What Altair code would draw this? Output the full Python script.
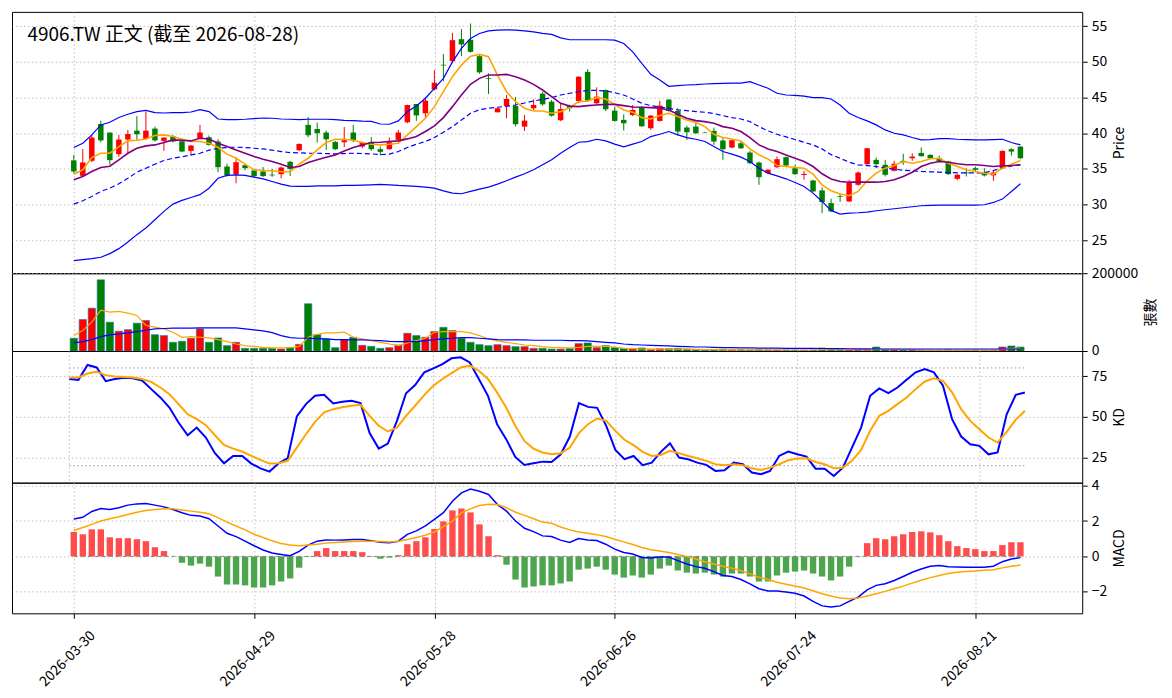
import altair as alt
import pandas as pd

TITLE = "4906.TW 正文 (截至 2026-08-28)"
TICK_POS = [0, 20, 40, 60, 80, 100]
TICK_LABELS = ["2026-03-30", "2026-04-29", "2026-05-28", "2026-06-26", "2026-07-24", "2026-08-21"]

open_ = [36.2, 34.04, 36.14, 41.3, 40.1, 37.07, 39.12, 40.37, 39.2, 40.65,
         38.93, 39.58, 38.88, 37.53, 39.3, 39.44, 38.84, 35.34, 34.27, 35.53,
         34.79, 34.65, 34.2, 34.27, 36.0, 37.63, 41.17, 40.6, 40.1, 38.79,
         38.74, 40.1, 38.14, 38.79, 37.77, 37.77, 39.07, 41.54, 44.1, 42.8,
         46.15, 49.6, 50.1, 53.18, 53.1, 50.8, 47.7, 42.94, 43.82, 43.82,
         40.93, 43.5, 45.55, 44.43, 41.82, 43.82, 44.52, 48.6, 44.2, 46.06,
         43.17, 41.87, 42.56, 43.64, 40.7, 41.73, 44.71, 43.12, 40.8, 40.93,
         40.1, 40.33, 38.98, 38.0, 38.6, 37.3, 35.9, 34.41, 35.25, 36.65,
         35.11, 34.15, 33.39, 31.99, 30.22, 31.2, 30.45, 32.78, 35.67, 36.28,
         35.58, 34.74, 36.14, 36.5, 37.25, 36.97, 36.5, 36.04, 33.62, 34.5,
         35.11, 34.5, 34.1, 35.11, 37.77, 38.14]
close = [34.65, 35.9, 39.4, 39.0, 36.23, 39.12, 39.9, 39.86, 40.37, 39.0,
         39.4, 38.84, 37.44, 38.28, 40.1, 38.37, 35.25, 34.1, 35.95, 35.11,
         34.0, 34.0, 34.1, 35.2, 35.0, 38.5, 39.72, 40.0, 39.16, 37.77,
         39.02, 39.02, 38.7, 37.77, 37.4, 38.74, 40.1, 43.96, 42.5, 44.57,
         47.08, 49.5, 53.04, 52.44, 51.4, 48.53, 47.6, 43.5, 44.8, 41.26,
         41.77, 43.96, 44.05, 42.47, 43.4, 43.5, 47.92, 44.57, 45.13, 43.36,
         41.73, 41.4, 43.26, 40.98, 42.47, 43.87, 43.12, 40.24, 40.14, 40.0,
         40.05, 38.84, 37.77, 39.02, 37.9, 35.81, 33.85, 34.88, 36.37, 35.48,
         34.27, 34.3, 31.85, 30.36, 29.06, 31.1, 33.1, 34.5, 37.9, 35.67,
         34.18, 35.72, 35.95, 36.74, 36.79, 36.5, 36.04, 34.27, 34.18, 34.4,
         34.88, 34.1, 34.5, 37.53, 37.44, 36.5]
high = [36.97, 37.8, 39.77, 41.77, 40.1, 39.77, 40.47, 42.4, 43.03, 40.93,
        39.4, 39.77, 39.3, 38.37, 41.17, 39.68, 39.16, 35.72, 36.6, 35.67,
        34.93, 35.25, 35.0, 35.35, 36.14, 38.6, 42.28, 41.5, 40.37, 38.93,
        40.89, 41.17, 38.84, 39.44, 38.14, 39.4, 40.47, 44.0, 44.1, 45.08,
        48.85, 51.09, 54.07, 54.58, 55.37, 50.95, 48.39, 43.6, 45.36, 45.1,
        42.56, 44.75, 45.8, 44.66, 44.2, 44.0, 48.0, 48.99, 46.43, 46.15,
        43.73, 42.66, 43.96, 43.82, 42.56, 44.57, 44.8, 43.5, 41.07, 41.4,
        40.2, 40.8, 39.3, 39.07, 38.84, 37.53, 36.04, 35.0, 36.74, 36.74,
        35.58, 34.74, 33.48, 32.41, 30.83, 31.5, 33.48, 34.65, 37.95, 36.6,
        36.28, 36.14, 37.12, 37.2, 38.0, 37.07, 36.88, 36.14, 34.27, 35.11,
        35.34, 35.11, 34.74, 37.6, 37.9, 38.14]
low = [34.4, 33.9, 35.95, 38.74, 35.58, 36.7, 37.2, 39.07, 39.1, 38.84,
       37.53, 38.74, 37.35, 36.88, 39.2, 38.28, 34.55, 33.95, 33.0, 34.83,
       33.85, 33.9, 33.9, 33.7, 34.0, 37.5, 39.44, 38.7, 37.67, 37.67,
       38.05, 38.74, 37.9, 37.53, 36.88, 37.67, 38.84, 41.4, 41.73, 42.1,
       46.0, 47.3, 49.8, 50.8, 51.3, 48.34, 45.5, 42.9, 42.1, 40.93,
       40.33, 43.26, 43.87, 42.33, 41.7, 43.03, 44.2, 44.4, 43.96, 43.12,
       41.63, 40.38, 42.4, 40.89, 40.47, 41.63, 43.03, 39.68, 39.07, 39.9,
       40.0, 38.37, 36.28, 37.9, 37.8, 35.67, 32.78, 34.27, 35.11, 35.34,
       34.18, 33.5, 31.76, 28.82, 28.96, 30.4, 30.36, 32.64, 35.58, 35.11,
       33.95, 34.65, 35.58, 36.14, 36.74, 36.42, 35.95, 34.18, 33.43, 33.95,
       34.55, 33.95, 33.34, 35.0, 36.88, 36.42]
volume_k = [32.8, 81, 110, 183, 74, 51, 55, 71.5, 78.4, 42,
            39.7, 22.4, 25, 32.8, 57, 22.4, 33.6, 13.8, 22.4, 6.9,
            6.9, 6.9, 6.9, 5.2, 8.6, 17, 121.5, 42, 31, 8.6,
            29.3, 35.3, 14.7, 12, 6.9, 8.6, 15.5, 45.7, 39.7, 35.3,
            50, 61, 52.6, 32.8, 22.4, 16.4, 13.8, 16.4, 13.8, 11.2,
            11.2, 6.9, 6.9, 5, 5, 6, 19, 20.7, 8.6, 13.8,
            8.6, 6.9, 5.2, 7.8, 4.3, 6, 6, 6.9, 5.2, 2.6,
            1.7, 3.4, 4.3, 3.4, 3.4, 2.6, 3.4, 2.6, 2.6, 2.6,
            2.6, 2.2, 2.6, 7.8, 3.4, 2.6, 3.0, 2.6, 3.4, 10.3,
            2.6, 2.6, 2.2, 2.2, 2.6, 2.2, 2.2, 3.0, 2.2, 2.2,
            2.6, 2.2, 2.6, 10.3, 13, 10.3]
ma5 = [34.27, 34.88, 36.6, 37.2, 37.2, 38.14, 38.93, 39.02, 39.2, 39.68,
       39.77, 39.54, 39.16, 38.84, 38.84, 38.6, 38.0, 37.07, 36.5, 35.67,
       34.88, 34.79, 34.74, 34.6, 34.6, 35.67, 36.5, 37.67, 38.7, 39.16,
       39.16, 39.02, 38.7, 38.47, 38.37, 38.47, 38.6, 39.77, 40.93, 42.1,
       43.73, 45.82, 47.92, 49.55, 50.8, 51.04, 50.71, 48.15, 45.82, 44.43,
       43.5, 43.12, 43.12, 42.8, 43.03, 43.6, 44.43, 44.52, 44.99, 44.8,
       44.05, 43.26, 42.94, 42.19, 42.0, 42.47, 42.8, 42.33, 41.87, 41.5,
       40.93, 39.86, 39.4, 39.2, 38.93, 37.81, 36.97, 36.4, 35.48, 35.34,
       35.2, 35.11, 34.27, 32.78, 31.95, 31.48, 31.25, 31.85, 33.34, 34.41,
       35.11, 35.48, 36.04, 35.81, 36.04, 36.42, 36.5, 35.81, 35.34, 34.88,
       34.65, 34.41, 34.27, 35.11, 35.67, 36.18]
ma10 = [33.48, 33.95, 34.65, 35.2, 35.39, 36.28, 37.2, 37.9, 38.23, 38.37,
        38.7, 39.07, 39.02, 38.93, 39.3, 39.2, 38.6, 38.14, 37.67, 37.2,
        36.74, 36.37, 36.04, 35.67, 35.2, 35.34, 35.9, 36.28, 36.65, 36.97,
        37.53, 38.0, 38.37, 38.7, 38.74, 38.84, 38.93, 39.21, 39.54, 40.24,
        41.03, 42.19, 43.73, 45.36, 46.85, 47.69, 48.15, 48.15, 48.25, 47.92,
        47.45, 46.85, 46.06, 45.13, 44.2, 43.8, 43.73, 43.87, 43.96, 44.05,
        44.05, 43.87, 43.68, 43.64, 43.59, 43.5, 43.26, 42.66, 42.1, 41.77,
        41.63, 41.4, 40.93, 40.7, 40.24, 39.4, 38.37, 37.81, 37.44, 36.97,
        36.5, 36.04, 35.34, 34.32, 33.6, 33.25, 33.15, 33.15, 33.15, 33.15,
        33.25, 33.48, 33.95, 34.55, 35.34, 35.81, 36.04, 35.95, 35.72, 35.58,
        35.58, 35.48, 35.34, 35.44, 35.48, 35.58]
bb_up = [38.0, 38.6, 39.77, 41.17, 41.54, 42.2, 42.66, 43.03, 43.2, 42.9,
         42.84, 42.9, 42.9, 42.98, 43.3, 43.03, 42.0, 41.9, 41.9, 41.96,
         42.05, 42.14, 42.1, 42.0, 41.96, 41.9, 41.96, 41.96, 41.96, 41.9,
         41.8, 41.77, 41.7, 41.66, 41.3, 41.26, 41.73, 43.03, 43.82, 44.9,
         46.3, 47.69, 50.0, 51.88, 53.28, 53.98, 54.35, 54.44, 54.49, 54.44,
         54.35, 54.2, 54.0, 53.84, 53.37, 53.1, 53.1, 53.1, 53.1, 53.1,
         53.04, 52.58, 51.4, 49.78, 48.25, 47.45, 46.57, 46.66, 46.76, 46.8,
         46.9, 46.94, 47.0, 47.03, 47.03, 47.22, 46.76, 46.3, 45.6, 45.36,
         45.3, 45.2, 45.0, 45.0, 44.8, 43.96, 42.8, 42.2, 41.73, 41.17,
         40.47, 40.0, 39.77, 39.4, 39.07, 39.12, 39.26, 39.26, 39.16, 39.12,
         39.07, 39.07, 39.12, 39.16, 38.7, 38.37]
bb_mid = [30.08, 30.55, 31.15, 31.85, 32.32, 32.92, 33.7, 34.55, 35.11, 35.67,
          36.18, 36.5, 36.7, 36.97, 37.2, 37.63, 37.9, 38.0, 38.05, 38.0,
          37.9, 37.81, 37.63, 37.44, 37.3, 37.25, 37.2, 37.2, 37.16, 37.11,
          37.16, 37.2, 37.16, 37.11, 37.02, 37.07, 37.44, 38.0, 38.47, 38.84,
          39.4, 40.14, 40.93, 41.87, 42.8, 43.31, 43.5, 43.64, 43.78, 43.96,
          44.24, 44.52, 44.75, 44.99, 45.36, 45.6, 45.82, 46.0, 46.0, 45.92,
          45.68, 45.36, 44.8, 44.2, 43.87, 43.68, 43.5, 43.26, 43.17, 43.03,
          42.94, 42.75, 42.47, 42.19, 42.0, 41.63, 40.93, 40.33, 39.86, 39.49,
          39.12, 38.74, 38.37, 37.81, 37.0, 36.5, 35.95, 35.58, 35.48, 35.34,
          35.11, 34.97, 34.83, 34.74, 34.65, 34.6, 34.55, 34.5, 34.46, 34.46,
          34.46, 34.46, 34.79, 35.11, 35.44, 35.58]
bb_low = [22.16, 22.3, 22.44, 22.63, 23.14, 23.84, 24.77, 25.8, 26.73, 27.89,
          29.06, 30.08, 30.6, 31.0, 31.4, 32.3, 33.7, 34.1, 34.18, 34.1,
          33.85, 33.62, 33.25, 32.88, 32.6, 32.55, 32.55, 32.64, 32.64, 32.64,
          32.69, 32.69, 32.74, 32.78, 32.83, 32.78, 32.69, 32.64, 32.55, 32.46,
          32.32, 31.94, 31.62, 31.53, 31.85, 32.18, 32.46, 32.88, 33.34, 33.85,
          34.32, 34.88, 35.58, 36.28, 37.2, 38.0, 38.74, 38.84, 39.16, 38.93,
          38.47, 38.1, 38.47, 38.84, 39.54, 39.86, 40.24, 39.77, 39.4, 39.16,
          38.84, 38.14, 37.44, 37.07, 36.65, 36.04, 35.11, 34.41, 34.04, 33.62,
          33.11, 32.55, 31.62, 30.45, 29.2, 28.68, 28.82, 28.87, 28.96, 29.15,
          29.29, 29.43, 29.57, 29.71, 29.85, 29.9, 29.94, 29.94, 29.94, 29.94,
          29.94, 29.99, 30.31, 30.78, 31.85, 32.92]
vol_ma5_k = [39.7, 52.6, 74, 105, 100, 101.7, 97.4, 91.4, 65.5, 61.2,
             57, 48.3, 35.3, 37, 35.3, 33.6, 29.3, 24, 18, 13.8,
             12, 9.5, 7.8, 7.8, 8.6, 12, 35.3, 43, 46.5, 46.5,
             48.3, 35.3, 31, 26.7, 22.4, 18, 13.8, 20.7, 26.7, 32.8,
             48.3, 50, 50, 50, 46.5, 39.7, 31, 25.9, 22.4, 19,
             15.5, 13.8, 11.2, 9.5, 8.6, 7.8, 9.5, 12, 12, 12,
             10.3, 6.9, 6, 5.2, 5, 4.8, 4.6, 4.6, 4.6, 4.2,
             3.8, 3.4, 3.0, 3.0, 3.0, 3.0, 2.8, 2.8, 2.8, 2.6,
             2.6, 2.6, 2.6, 3.4, 3.6, 3.6, 3.6, 3.8, 3.0, 4.4,
             4.4, 4.4, 4.2, 4.2, 2.4, 2.4, 2.4, 2.4, 2.4, 2.4,
             2.4, 2.4, 2.4, 4.0, 6.0, 7.6]
vol_ma20_k = [20.7, 24, 29.3, 37, 41.4, 44, 46.5, 50, 53.4, 57,
              57.8, 58.6, 58.6, 58.6, 59.5, 59.5, 59.5, 59.5, 59.5, 57,
              54.3, 51.7, 47.4, 39.7, 34.5, 32.8, 32.8, 32, 31, 29.3,
              29.3, 28.4, 28.4, 27.6, 26.7, 25, 24, 24, 24, 26.7,
              29.3, 31, 32.8, 34.5, 34.5, 32.8, 31, 29.3, 28.4, 28.4,
              28.4, 27.6, 27.6, 27.6, 27.6, 26.7, 26.7, 25.9, 24, 22.4,
              20.7, 18, 16.4, 15.5, 14.7, 13.8, 13, 12, 11.2, 10.3,
              10.3, 9.5, 8.6, 8.6, 8.2, 7.8, 7.6, 7.4, 7.2, 7.0,
              6.9, 6.8, 6.6, 6.4, 6.2, 6.0, 5.8, 5.6, 5.4, 5.2,
              5.2, 5.2, 5.2, 5.2, 5.2, 5.2, 5.2, 5.2, 5.2, 5.2,
              5.2, 5.2, 5.2, 5.2, 5.2, 5.2]
k_line = [73.2, 72.7, 81.8, 80.3, 71.9, 73.2, 74.0, 73.6, 72.3, 67.0,
          61.9, 55.7, 46.5, 38.7, 43.4, 37.3, 27.7, 21.5, 26.0, 26.0,
          21.3, 18.4, 16.4, 21.5, 24.6, 50.2, 57.8, 62.9, 63.5, 58.2,
          59.2, 59.8, 58.4, 40.0, 30.5, 33.6, 47.5, 64.5, 69.5, 77.3,
          79.7, 82.4, 85.9, 86.5, 83.4, 73.2, 62.9, 45.5, 36.3, 25.4,
          20.5, 21.5, 22.5, 22.3, 27.0, 37.9, 58.4, 56.1, 55.5, 44.5,
          29.7, 24.0, 26.0, 20.3, 21.9, 28.5, 33.8, 25.0, 24.0, 21.9,
          20.5, 16.8, 17.2, 21.9, 20.9, 15.8, 14.8, 16.8, 26.0, 28.7,
          27.0, 25.6, 18.2, 18.2, 13.7, 18.8, 31.1, 43.4, 62.9, 67.4,
          64.5, 68.0, 72.7, 77.3, 79.3, 77.3, 69.1, 48.6, 37.9, 33.2,
          32.2, 27.0, 28.1, 51.6, 63.5, 64.9]
d_line = [74.2, 74.2, 76.6, 77.7, 75.6, 74.8, 74.4, 74.2, 73.2, 71.5,
          68.0, 63.9, 57.8, 51.6, 48.6, 44.9, 38.7, 32.8, 30.5, 28.7,
          26.0, 23.6, 21.3, 21.5, 23.0, 31.1, 39.3, 46.9, 52.7, 54.7,
          55.9, 56.8, 57.4, 50.6, 44.5, 41.0, 43.4, 50.6, 56.8, 63.3,
          69.1, 73.2, 76.8, 80.3, 81.4, 78.3, 73.2, 65.0, 55.7, 44.5,
          35.2, 30.5, 28.1, 27.0, 27.7, 31.1, 40.0, 45.5, 49.0, 47.5,
          41.4, 35.9, 32.6, 28.5, 26.0, 26.6, 29.1, 27.7, 26.0, 24.6,
          23.0, 20.9, 20.3, 20.9, 20.3, 18.4, 17.4, 18.8, 20.9, 23.4,
          24.4, 24.6, 22.3, 20.9, 18.4, 18.8, 23.0, 29.7, 41.4, 50.6,
          53.7, 57.8, 61.9, 67.0, 71.7, 73.6, 72.1, 65.0, 54.7, 47.5,
          42.4, 37.3, 34.2, 40.8, 48.2, 53.7]
macd_hist = [1.38, 1.25, 1.53, 1.53, 1.08, 1.03, 1.03, 0.97, 0.86, 0.52,
             0.30, 0.0, -0.36, -0.52, -0.41, -0.58, -1.14, -1.59, -1.59, -1.64,
             -1.76, -1.76, -1.64, -1.42, -1.25, -0.64, -0.02, 0.30, 0.47, 0.30,
             0.30, 0.30, 0.24, -0.02, -0.13, -0.07, 0.07, 0.69, 0.86, 1.08,
             1.55, 1.98, 2.60, 2.71, 2.49, 1.81, 1.14, 0.07, -0.47, -1.31,
             -1.76, -1.70, -1.64, -1.64, -1.53, -1.42, -0.75, -0.69, -0.58, -0.75,
             -1.03, -1.20, -1.08, -1.20, -1.03, -0.69, -0.52, -0.80, -0.92, -0.97,
             -0.92, -1.03, -1.14, -0.97, -0.97, -1.14, -1.42, -1.42, -1.08, -0.92,
             -0.86, -0.80, -0.97, -1.14, -1.36, -1.14, -0.58, -0.02, 0.75, 1.03,
             0.97, 1.14, 1.25, 1.38, 1.42, 1.36, 1.20, 0.86, 0.58, 0.47,
             0.41, 0.30, 0.30, 0.64, 0.80, 0.80]
dif = [2.11, 2.21, 2.54, 2.71, 2.65, 2.75, 2.90, 2.97, 2.99, 2.90,
       2.80, 2.65, 2.47, 2.32, 2.28, 2.13, 1.72, 1.31, 1.12, 0.86,
       0.60, 0.36, 0.19, 0.11, 0.04, 0.28, 0.64, 0.86, 0.93, 0.92,
       0.93, 0.95, 0.95, 0.88, 0.80, 0.77, 0.86, 1.25, 1.44, 1.72,
       2.09, 2.47, 3.12, 3.59, 3.81, 3.68, 3.50, 2.93, 2.56, 2.00,
       1.59, 1.40, 1.16, 1.12, 0.92, 0.79, 1.01, 0.93, 0.90, 0.69,
       0.41, 0.22, 0.13, -0.06, -0.09, -0.04, -0.04, -0.24, -0.43, -0.58,
       -0.67, -0.86, -1.08, -1.14, -1.31, -1.55, -1.83, -1.96, -1.96, -2.02,
       -2.09, -2.24, -2.54, -2.80, -2.86, -2.80, -2.54, -2.30, -1.89, -1.64,
       -1.55, -1.36, -1.14, -0.90, -0.71, -0.56, -0.52, -0.58, -0.60, -0.62,
       -0.62, -0.62, -0.56, -0.30, -0.15, -0.07]
dea = [1.46, 1.63, 1.81, 2.00, 2.13, 2.24, 2.37, 2.50, 2.60, 2.65,
       2.69, 2.69, 2.62, 2.56, 2.50, 2.41, 2.19, 1.94, 1.72, 1.50,
       1.25, 1.07, 0.88, 0.73, 0.64, 0.60, 0.64, 0.69, 0.75, 0.79,
       0.82, 0.84, 0.86, 0.86, 0.84, 0.82, 0.86, 0.95, 1.07, 1.20,
       1.38, 1.68, 2.00, 2.47, 2.69, 2.88, 2.95, 2.93, 2.75, 2.50,
       2.32, 2.13, 1.94, 1.88, 1.66, 1.50, 1.38, 1.31, 1.23, 1.12,
       0.97, 0.82, 0.67, 0.50, 0.37, 0.30, 0.22, 0.11, 0.0, -0.15,
       -0.30, -0.43, -0.56, -0.67, -0.80, -0.99, -1.18, -1.31, -1.46, -1.57,
       -1.68, -1.79, -1.94, -2.11, -2.24, -2.36, -2.39, -2.36, -2.24, -2.11,
       -1.98, -1.83, -1.68, -1.51, -1.35, -1.20, -1.08, -0.97, -0.90, -0.86,
       -0.82, -0.79, -0.75, -0.65, -0.56, -0.49]

N = len(close)
df = pd.DataFrame({
    "i": list(range(N)), "open": open_, "high": high, "low": low, "close": close,
    "vol": [v * 1000 for v in volume_k], "ma5": ma5, "ma10": ma10,
    "bb_up": bb_up, "bb_mid": bb_mid, "bb_low": bb_low,
    "vma5": [v * 1000 for v in vol_ma5_k], "vma20": [v * 1000 for v in vol_ma20_k],
    "k": k_line, "d": d_line, "hist": macd_hist, "dif": dif, "dea": dea,
})
kd_ref = pd.DataFrame({"level": [20, 80], "x0": [0, 0], "x1": [N - 1, N - 1]})
zero_ref = pd.DataFrame({"level": [0], "x0": [0], "x1": [N - 1]})
title_df = pd.DataFrame({"t": [TITLE]})

FONT = "Noto Sans CJK TC"
W = 1073
X_DOMAIN = [-6.3, 111.3]
label_expr = "[" + ",".join("'%s'" % s for s in TICK_LABELS) + "][round(datum.value/20)]"

GRID = dict(grid=True, gridColor="#b0b0b0", gridDash=[1.5, 2.5], gridWidth=0.8)


def xenc(bottom=False, field="i"):
    if bottom:
        ax = alt.Axis(values=TICK_POS, labelExpr=label_expr, labelAngle=315,
                      labelAlign="right", labelBaseline="top", labelOffset=14,
                      labelPadding=10, ticks=True, tickSize=5, domain=False,
                      title=None, **GRID)
    else:
        ax = alt.Axis(values=TICK_POS, labels=False, ticks=False, domain=False,
                      title=None, **GRID)
    return alt.X(field + ":Q", scale=alt.Scale(domain=X_DOMAIN, nice=False, zero=False), axis=ax)


def yenc(field, domain, values, title, fmt=None):
    kw = dict(orient="right", values=values, title=title, titleAngle=270,
              titleBaseline="top", domain=False, tickSize=5, titlePadding=6, **GRID)
    if fmt:
        kw["format"] = fmt
    return alt.Y(field + ":Q", scale=alt.Scale(domain=domain, nice=False, zero=False),
                 axis=alt.Axis(**kw))


up_cond = alt.condition("datum.close >= datum.open", alt.value("#ff0000"), alt.value("#008000"))

# ---------------- price panel ----------------
PD = [20.4, 57.0]
PV = [25, 30, 35, 40, 45, 50, 55]
base = alt.Chart(df)
wicks = base.mark_rule(strokeWidth=1).encode(
    x=xenc(), y=yenc("low", PD, PV, "Price"), y2="high:Q", color=up_cond)
bodies = base.mark_bar(size=5.5).encode(
    x=xenc(), y=yenc("open", PD, PV, "Price"), y2="close:Q", color=up_cond)


def pline(field, color, width=1.5, dash=None):
    kw = dict(color=color, strokeWidth=width, clip=True)
    if dash:
        kw["strokeDash"] = dash
    return base.mark_line(**kw).encode(x=xenc(), y=yenc(field, PD, PV, "Price"))


title_mark = alt.Chart(title_df).mark_text(
    align="left", baseline="alphabetic", font=FONT, fontSize=19, color="black"
).encode(text="t:N", x=alt.value(15.5), y=alt.value(29))

price = alt.layer(
    wicks, bodies,
    pline("bb_up", "#0000ff", 1.2), pline("bb_low", "#0000ff", 1.2),
    pline("bb_mid", "#0000ff", 1.2, [5, 3]),
    pline("ma5", "#ffa500", 1.6), pline("ma10", "#800080", 1.6),
    title_mark,
).properties(width=W, height=262)

# ---------------- volume panel ----------------
VD = [0, 200000]
vbars = base.mark_bar(size=7.3, stroke="#1f77b4", strokeWidth=0.6).encode(
    x=xenc(), y=yenc("vol", VD, [0, 200000], "張數", "d"), color=up_cond)
vma5 = base.mark_line(color="#ffa500", strokeWidth=1.2).encode(
    x=xenc(), y=yenc("vma5", VD, [0, 200000], "張數", "d"))
vma20 = base.mark_line(color="#0000ff", strokeWidth=1.2).encode(
    x=xenc(), y=yenc("vma20", VD, [0, 200000], "張數", "d"))
volume = alt.layer(vbars, vma5, vma20).properties(width=W, height=78)

# ---------------- KD panel ----------------
KDD = [9.6, 90.4]
KV = [25, 50, 75]
kref = alt.Chart(kd_ref).mark_rule(color="#999999", strokeDash=[1.5, 2.5], strokeWidth=1).encode(
    x=xenc(field="x0"), x2="x1:Q", y=yenc("level", KDD, KV, "KD"))
kl = base.mark_line(color="#0000ff", strokeWidth=2).encode(x=xenc(), y=yenc("k", KDD, KV, "KD"))
dl = base.mark_line(color="#ffa500", strokeWidth=2).encode(x=xenc(), y=yenc("d", KDD, KV, "KD"))
kd = alt.layer(kref, kl, dl).properties(width=W, height=132)

# ---------------- MACD panel ----------------
MD = [-3.22, 4.17]
MV = [-2, 0, 2, 4]
hist_cond = alt.condition("datum.hist >= 0", alt.value("#ff4d4d"), alt.value("#4da64d"))
hbars = base.mark_bar(size=6.4).encode(
    x=xenc(bottom=True), y=yenc("hist", MD, MV, "MACD"), y2=alt.datum(0), color=hist_cond)
zref = alt.Chart(zero_ref).mark_rule(color="#888888", strokeDash=[4, 3], strokeWidth=1).encode(
    x=xenc(bottom=True, field="x0"), x2="x1:Q", y=yenc("level", MD, MV, "MACD"))
difl = base.mark_line(color="#0000ff", strokeWidth=1.5).encode(
    x=xenc(bottom=True), y=yenc("dif", MD, MV, "MACD"))
deal = base.mark_line(color="#ffa500", strokeWidth=1.5).encode(
    x=xenc(bottom=True), y=yenc("dea", MD, MV, "MACD"))
macd = alt.layer(hbars, zref, difl, deal).properties(width=W, height=131)

chart = alt.vconcat(price, volume, kd, macd, spacing=0, bounds="flush").resolve_scale(
    x="independent", y="independent", color="independent"
).properties(
    padding={"left": 3, "top": 2, "right": 5, "bottom": 5}
).configure(font=FONT).configure_view(
    stroke="black", strokeWidth=1
).configure_axis(
    labelFont=FONT, titleFont=FONT, labelFontSize=14, titleFontSize=14,
    labelColor="black", titleColor="black", tickColor="black",
    titleFontWeight="normal", labelPadding=4,
)

chart.save("out.html", embed_options={"renderer": "svg", "actions": False})
